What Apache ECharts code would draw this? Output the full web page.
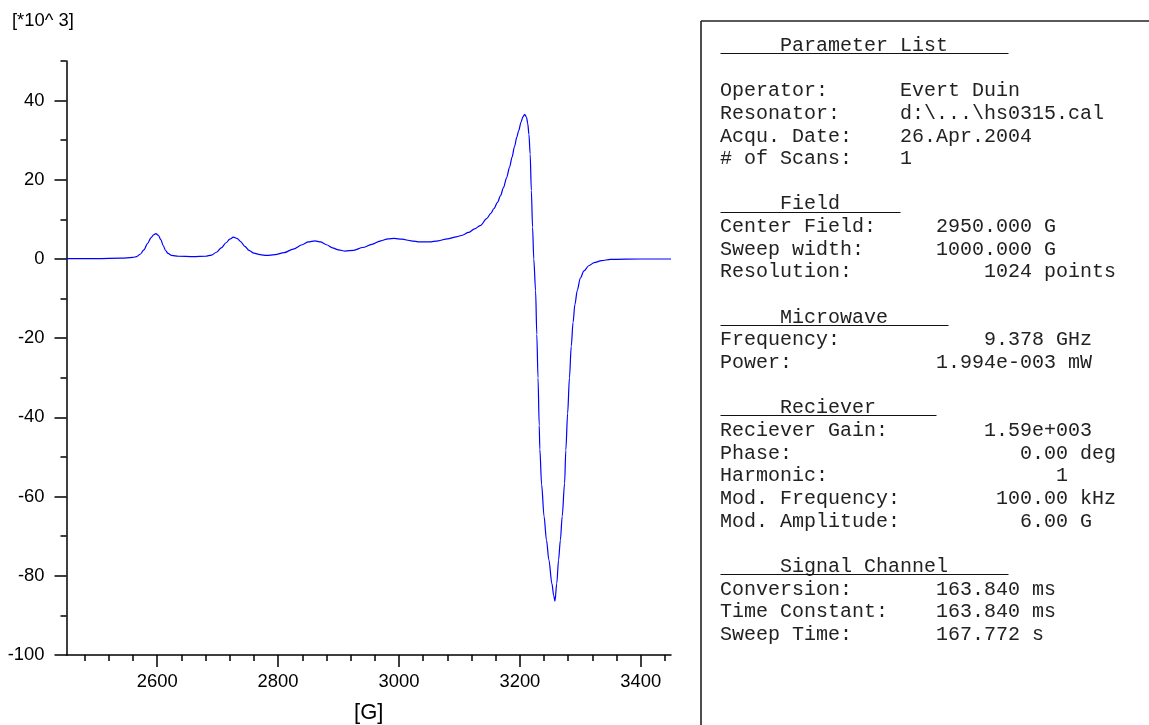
<!DOCTYPE html>
<html>
<head>
<meta charset="utf-8">
<script src="https://cdn.jsdelivr.net/npm/echarts@6/dist/echarts.min.js"></script>
<style>
  html, body { margin: 0; padding: 0; background: #fff; }
  #chart { width: 1149px; height: 725px; }
</style>
</head>
<body>
<div id="chart"></div>
<script>
// EPR first-derivative spectrum: magnetic field [G] vs. signal [*10^3]
const fieldG = [
  2450, 2500, 2540, 2560, 2566, 2572, 2578, 2584, 2590, 2594, 2598, 2602, 2606, 2610, 2614, 2618, 2624, 2635,
  2660, 2680, 2690, 2698, 2706, 2714, 2720, 2726, 2732, 2738, 2745, 2752, 2760, 2770, 2781, 2795, 2810, 2825,
  2840, 2850, 2861, 2870, 2880, 2890, 2900, 2911, 2925, 2940, 2955, 2970, 2982, 2992, 3005, 3020, 3035, 3050,
  3065, 3080, 3095, 3105, 3115, 3125, 3135, 3145, 3152, 3157, 3163, 3168, 3173, 3178, 3183, 3187, 3191, 3195,
  3198, 3202, 3205, 3208, 3211, 3213, 3215, 3217, 3219, 3221, 3223, 3226, 3228, 3230, 3232, 3233, 3236, 3240,
  3244, 3248, 3253, 3256, 3258, 3261, 3264, 3267, 3270, 3274, 3276, 3279, 3282, 3285, 3288, 3291, 3295, 3300,
  3306, 3314, 3323, 3335, 3350, 3400, 3450
];
const signal = [
  0.1, 0.1, 0.2, 0.4, 0.6, 1.2, 2.3, 3.9, 5.4, 6.1, 6.4, 6.0, 4.9, 3.4, 2.1, 1.4, 0.9, 0.7,
  0.6, 0.7, 1.0, 1.7, 2.8, 4.1, 5.0, 5.5, 5.2, 4.4, 3.2, 2.2, 1.5, 1.1, 0.9, 1.1, 1.6, 2.5,
  3.6, 4.3, 4.6, 4.3, 3.6, 2.8, 2.3, 2.0, 2.2, 2.9, 3.7, 4.6, 5.1, 5.2, 5.0, 4.6, 4.3, 4.3,
  4.6, 5.1, 5.6, 6.0, 6.7, 7.6, 8.5, 10.2, 11.5, 12.7, 14.3, 16.0, 18.1, 20.5, 23.2, 25.7, 28.3, 30.8,
  32.4, 34.6, 35.9, 36.5, 35.8, 34.2, 31.5, 26.5, 17.3, 8.0, 0.0, -8.0, -19, -30, -42, -48, -57, -65,
  -71, -76, -82, -85, -86.4, -82, -76, -71, -65, -56.6, -48.3, -39, -30, -22, -16, -11.5, -7.9, -4.8,
  -3.0, -1.7, -0.9, -0.4, -0.1, 0.0, 0.0
];

// axis ticks
const xMajorTicks = [2600, 2800, 3000, 3200, 3400];
const xMinorTicks = [2480, 2520, 2560, 2640, 2680, 2720, 2760, 2840, 2880, 2920, 2960, 3040, 3080, 3120, 3160,
                     3240, 3280, 3320, 3360, 3440];
const yMajorTicks = [-100, -80, -60, -40, -20, 0, 20, 40];
const yMinorTicks = [-90, -70, -50, -30, -10, 10, 30, 50];
const xUnit = '[G]';
const yUnit = '[*10^ 3]';

// acquisition parameter list
const paramHeadings = ['Parameter List', 'Field', 'Microwave', 'Reciever', 'Signal Channel'];
const paramRows = [
  ['Operator:      Evert Duin',
   'Resonator:     d:\\...\\hs0315.cal',
   'Acqu. Date:    26.Apr.2004',
   '# of Scans:    1'],
  ['Center Field:     2950.000 G',
   'Sweep width:      1000.000 G',
   'Resolution:           1024 points'],
  ['Frequency:            9.378 GHz',
   'Power:            1.994e-003 mW'],
  ['Reciever Gain:        1.59e+003',
   'Phase:                   0.00 deg',
   'Harmonic:                   1',
   'Mod. Frequency:        100.00 kHz',
   'Mod. Amplitude:          6.00 G'],
  ['Conversion:       163.840 ms',
   'Time Constant:    163.840 ms',
   'Sweep Time:       167.772 s']
];

const chart = echarts.init(document.getElementById('chart'), null, { renderer: 'canvas' });

const sans = '"Liberation Sans", Arial, sans-serif';
const mono = '"Liberation Mono", "Courier New", monospace';
const ink = '#000';

// text block of the parameter panel
const lines = [];
const headingIdx = [];
paramHeadings.forEach((h, s) => {
  headingIdx.push({ idx: lines.length, len: h.length });
  lines.push('     ' + h);
  if (s === 0) lines.push('');
  paramRows[s].forEach(r => lines.push(r));
  if (s < paramHeadings.length - 1) lines.push('');
});

const monoSize = 20;
const charW = monoSize * 0.6;
const lineH = 22.65;
const panelX = 720.5;
const panelTop = 34.3;

const graphics = [
  { type: 'text', left: 12, top: 12,
    style: { text: yUnit, font: '18.4px ' + sans, fill: ink } },
  { type: 'text', x: 368.7, y: 713,
    style: { text: xUnit, font: '22px ' + sans, fill: ink, align: 'center', verticalAlign: 'middle' } },
  // panel frame
  { type: 'line', shape: { x1: 701, y1: 21, x2: 1149, y2: 21 }, style: { stroke: '#222', lineWidth: 1.6 } },
  { type: 'line', shape: { x1: 701, y1: 21, x2: 701, y2: 725 }, style: { stroke: '#222', lineWidth: 1.6 } },
  { type: 'text', x: panelX - 0.5, y: panelTop,
    style: { text: lines.join('\n'), font: monoSize + 'px ' + mono, lineHeight: lineH, fill: '#222',
             verticalAlign: 'top', align: 'left' } }
];
headingIdx.forEach(h => {
  const y = Math.round(53 + lineH * h.idx) + 0.5;
  graphics.push({ type: 'line',
    shape: { x1: panelX, y1: y, x2: panelX + (h.len + 10) * charW, y2: y },
    style: { stroke: '#111', lineWidth: 1 } });
});

const axisCommon = {
  axisLine: { onZero: false, lineStyle: { color: ink, width: 1.5 } },
  splitLine: { show: false }
};
const plain = v => String(v);

chart.setOption({
  animation: false,
  backgroundColor: '#fff',
  grid: { left: 66.5, right: 478, top: 61, bottom: 70, containLabel: false },
  xAxis: [
    Object.assign({}, axisCommon, {
      type: 'value', min: 2450, max: 3450, position: 'bottom',
      axisTick: { customValues: xMajorTicks, length: 12, lineStyle: { color: ink, width: 1.5 } },
      axisLabel: { customValues: xMajorTicks, formatter: plain, margin: 18, fontSize: 18.4,
                   fontFamily: sans, color: ink }
    }),
    {
      type: 'value', min: 2450, max: 3450, position: 'bottom',
      axisLine: { show: false, onZero: false },
      axisTick: { customValues: xMinorTicks, length: 6, lineStyle: { color: ink, width: 1.5 } },
      axisLabel: { show: false },
      splitLine: { show: false }
    }
  ],
  yAxis: [
    Object.assign({}, axisCommon, {
      type: 'value', min: -100, max: 50, position: 'left',
      axisTick: { customValues: yMajorTicks, length: 12, lineStyle: { color: ink, width: 1.5 } },
      axisLabel: { customValues: yMajorTicks, formatter: plain, margin: 22, fontSize: 18.4,
                   fontFamily: sans, color: ink }
    }),
    {
      type: 'value', min: -100, max: 50, position: 'left',
      axisLine: { show: false, onZero: false },
      axisTick: { customValues: yMinorTicks, length: 6, lineStyle: { color: ink, width: 1.5 } },
      axisLabel: { show: false },
      splitLine: { show: false }
    }
  ],
  series: [{
    type: 'line',
    xAxisIndex: 0,
    yAxisIndex: 0,
    data: fieldG.map((g, i) => [g, signal[i]]),
    showSymbol: false,
    smooth: 0.3,
    smoothMonotone: 'x',
    lineStyle: { color: '#0000ff', width: 1.2 },
    silent: true
  }],
  graphic: graphics
});
</script>
</body>
</html>
